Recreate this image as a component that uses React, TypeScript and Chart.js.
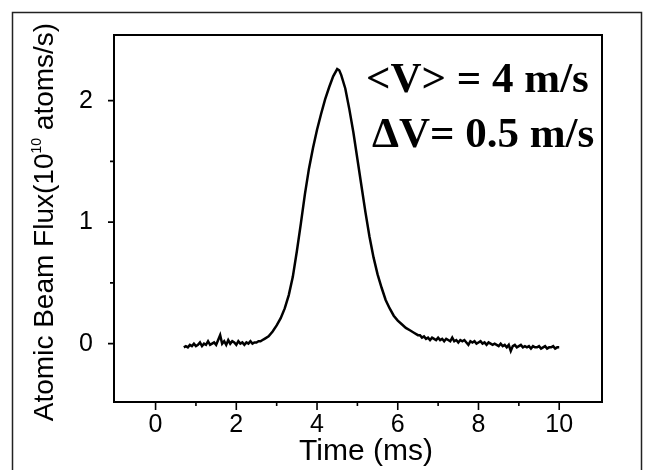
import React, { useEffect, useRef } from 'react';
import { Chart, registerables } from 'chart.js';

Chart.register(...registerables);

// Time of flight (ms)
const timeMs = [
  0.70, 0.75, 0.80, 0.85, 0.90, 0.95, 1.00, 1.05, 1.10, 1.15,
  1.20, 1.25, 1.30, 1.35, 1.40, 1.45, 1.50, 1.55, 1.60, 1.65,
  1.70, 1.75, 1.80, 1.85, 1.90, 1.95, 2.00, 2.05, 2.10, 2.15,
  2.20, 2.25, 2.30, 2.35, 2.40, 2.45, 2.50, 2.55, 2.60, 2.65,
  2.7, 2.8, 2.9, 3.0, 3.1, 3.2, 3.3, 3.4, 3.5, 3.6,
  3.7, 3.8, 3.9, 4.0, 4.1, 4.2, 4.3, 4.4, 4.5, 4.55,
  4.6, 4.7, 4.8, 4.9, 5.0, 5.1, 5.2, 5.3, 5.4, 5.5,
  5.6, 5.7, 5.8, 5.9, 6.0, 6.1, 6.2, 6.3, 6.4, 6.5,
  6.55, 6.60, 6.65, 6.70, 6.75, 6.80, 6.85, 6.90, 6.95, 7.00,
  7.05, 7.10, 7.15, 7.20, 7.25, 7.30, 7.35, 7.40, 7.45, 7.50,
  7.55, 7.60, 7.65, 7.70, 7.75, 7.80, 7.85, 7.90, 7.95, 8.00,
  8.05, 8.10, 8.15, 8.20, 8.25, 8.30, 8.35, 8.40, 8.45, 8.50,
  8.55, 8.60, 8.65, 8.70, 8.75, 8.80, 8.85, 8.90, 8.95, 9.00,
  9.05, 9.10, 9.15, 9.20, 9.25, 9.30, 9.35, 9.40, 9.45, 9.50,
  9.55, 9.60, 9.65, 9.70, 9.75, 9.80, 9.85, 9.90, 9.95, 10.00,
];

// Atomic beam flux (10^10 atoms/s)
const flux = [
  -0.03, -0.02, -0.03, -0.01, -0.02, 0.00, -0.02, -0.01, 0.01, -0.02,
  0.00, -0.01, 0.02, -0.01, 0.00, 0.01, -0.01, 0.03, 0.07, 0.00,
  0.02, -0.01, 0.03, 0.00, 0.02, 0.01, -0.01, 0.02, 0.00, 0.01,
  -0.01, 0.01, 0.00, 0.02, 0.00, 0.01, 0.01, 0.02, 0.02, 0.03,
  0.04, 0.06, 0.10, 0.15, 0.21, 0.29, 0.40, 0.55, 0.76, 0.99,
  1.23, 1.44, 1.61, 1.76, 1.89, 2.01, 2.11, 2.20, 2.26, 2.25,
  2.21, 2.10, 1.93, 1.74, 1.52, 1.30, 1.08, 0.88, 0.71, 0.57,
  0.46, 0.36, 0.29, 0.23, 0.19, 0.16, 0.13, 0.11, 0.09, 0.07,
  0.07, 0.05, 0.06, 0.04, 0.05, 0.03, 0.05, 0.04, 0.03, 0.05,
  0.03, 0.04, 0.02, 0.04, 0.03, 0.02, 0.05, 0.02, 0.03, 0.01,
  0.03, 0.02, 0.03, 0.01, -0.01, 0.02, 0.01, 0.02, 0.00, 0.01,
  0.02, 0.00, 0.01, -0.01, 0.01, 0.00, -0.01, 0.00, -0.01, -0.02,
  0.00, -0.02, -0.01, -0.03, -0.01, -0.06, -0.02, -0.01, -0.03, -0.02,
  -0.01, -0.03, -0.02, -0.03, -0.02, -0.04, -0.02, -0.03, -0.03, -0.02,
  -0.04, -0.03, -0.02, -0.04, -0.03, -0.03, -0.02, -0.04, -0.03, -0.03,
];

const xMajorTicks = [0, 2, 4, 6, 8, 10];
const xMinorTicks = [1, 3, 5, 7, 9];
const yMajorTicks = [0, 1, 2];
const yMinorTicks = [0.5, 1.5];

const xAxisTitle = 'Time (ms)';
const yTitleMain = 'Atomic Beam Flux(10';
const yTitleSup = '10';
const yTitleEnd = ' atoms/s)';
const annotationLines = ['<V> = 4 m/s', '\u0394V= 0.5 m/s'];

const SANS = '"Liberation Sans", Arial, Helvetica, sans-serif';
const SERIF = '"Liberation Serif", "Times New Roman", serif';

const decorPlugin = {
  id: 'decor',
  beforeDraw(chart: any) {
    const ctx = chart.ctx;
    ctx.save();
    ctx.fillStyle = '#ffffff';
    ctx.fillRect(0, 0, chart.width, chart.height);
    // outer figure frame
    ctx.strokeStyle = '#222';
    ctx.lineWidth = 1.5;
    ctx.beginPath();
    ctx.moveTo(12.5, chart.height + 5);
    ctx.lineTo(12.5, 12.5);
    ctx.lineTo(641.5, 12.5);
    ctx.lineTo(641.5, chart.height + 5);
    ctx.stroke();
    ctx.restore();
  },
  afterDraw(chart: any) {
    const ctx = chart.ctx;
    const a = chart.chartArea;
    const xs = chart.scales.x;
    const ys = chart.scales.y;
    ctx.save();
    ctx.strokeStyle = '#000';
    ctx.lineWidth = 2;
    ctx.strokeRect(a.left, a.top, a.right - a.left, a.bottom - a.top);
    ctx.lineWidth = 1.6;
    ctx.beginPath();
    xMajorTicks.forEach((v) => {
      const p = xs.getPixelForValue(v);
      ctx.moveTo(p, a.bottom);
      ctx.lineTo(p, a.bottom + 8);
    });
    xMinorTicks.forEach((v) => {
      const p = xs.getPixelForValue(v);
      ctx.moveTo(p, a.bottom);
      ctx.lineTo(p, a.bottom + 4);
    });
    yMajorTicks.forEach((v) => {
      const p = ys.getPixelForValue(v);
      ctx.moveTo(a.left, p);
      ctx.lineTo(a.left - 6, p);
    });
    yMinorTicks.forEach((v) => {
      const p = ys.getPixelForValue(v);
      ctx.moveTo(a.left, p);
      ctx.lineTo(a.left - 4, p);
    });
    ctx.stroke();

    // x-axis title
    ctx.fillStyle = '#000';
    ctx.font = `30px ${SANS}`;
    ctx.textAlign = 'center';
    ctx.textBaseline = 'alphabetic';
    ctx.fillText(xAxisTitle, 366, 460);

    // y-axis title with superscript
    const mainFont = `28px ${SANS}`;
    const supFont = `14px ${SANS}`;
    ctx.font = mainFont;
    const w1 = ctx.measureText(yTitleMain).width;
    const w3 = ctx.measureText(yTitleEnd).width;
    ctx.font = supFont;
    const w2 = ctx.measureText(yTitleSup).width;
    const total = w1 + w2 + w3;
    ctx.translate(53, 222);
    ctx.rotate(-Math.PI / 2);
    ctx.textAlign = 'left';
    let x0 = -total / 2;
    ctx.font = mainFont;
    ctx.fillText(yTitleMain, x0, 0);
    x0 += w1;
    ctx.font = supFont;
    ctx.fillText(yTitleSup, x0, -12);
    x0 += w2;
    ctx.font = mainFont;
    ctx.fillText(yTitleEnd, x0, 0);
    ctx.setTransform(1, 0, 0, 1, 0, 0);

    // annotation
    ctx.font = `bold 43px ${SERIF}`;
    ctx.textAlign = 'left';
    ctx.fillText(annotationLines[0], 366, 92);
    ctx.fillText(annotationLines[1], 372, 147);
    ctx.restore();
  },
};

export default function App() {
  const ref = useRef<HTMLCanvasElement | null>(null);

  useEffect(() => {
    document.body.style.margin = '0';
    const canvas = ref.current;
    if (!canvas) return;
    const chart = new Chart(canvas, {
      type: 'scatter',
      data: {
        datasets: [
          {
            data: timeMs.map((t, i) => ({ x: t, y: flux[i] })),
            showLine: true,
            borderColor: '#000',
            borderWidth: 2.5,
            pointRadius: 0,
            tension: 0,
          },
        ],
      },
      options: {
        responsive: false,
        animation: false,
        devicePixelRatio: 1,
        layout: { padding: { top: 35, right: 44, left: 0, bottom: 0 } },
        plugins: { legend: { display: false }, tooltip: { enabled: false } },
        scales: {
          x: {
            type: 'linear',
            min: -1.03,
            max: 11.06,
            grid: { display: false },
            border: { display: false },
            afterFit: (s: any) => {
              s.height = 68;
            },
            afterBuildTicks: (s: any) => {
              s.ticks = xMajorTicks.map((v) => ({ value: v }));
            },
            ticks: {
              color: '#000',
              font: { family: SANS, size: 25 },
              padding: 0,
              maxRotation: 0,
              callback: (v: any) => String(v),
            },
          },
          y: {
            type: 'linear',
            min: -0.48,
            max: 2.54,
            grid: { display: false },
            border: { display: false },
            afterFit: (s: any) => {
              s.width = 114;
            },
            afterBuildTicks: (s: any) => {
              s.ticks = yMajorTicks.map((v) => ({ value: v }));
            },
            ticks: {
              color: '#000',
              font: { family: SANS, size: 25 },
              padding: 13,
              callback: (v: any) => String(v),
            },
          },
        },
      },
      plugins: [decorPlugin],
    });
    return () => chart.destroy();
  }, []);

  return (
    <div style={{ position: 'absolute', left: 0, top: 0, width: 646, height: 470 }}>
      <canvas ref={ref} width={646} height={470} />
    </div>
  );
}
